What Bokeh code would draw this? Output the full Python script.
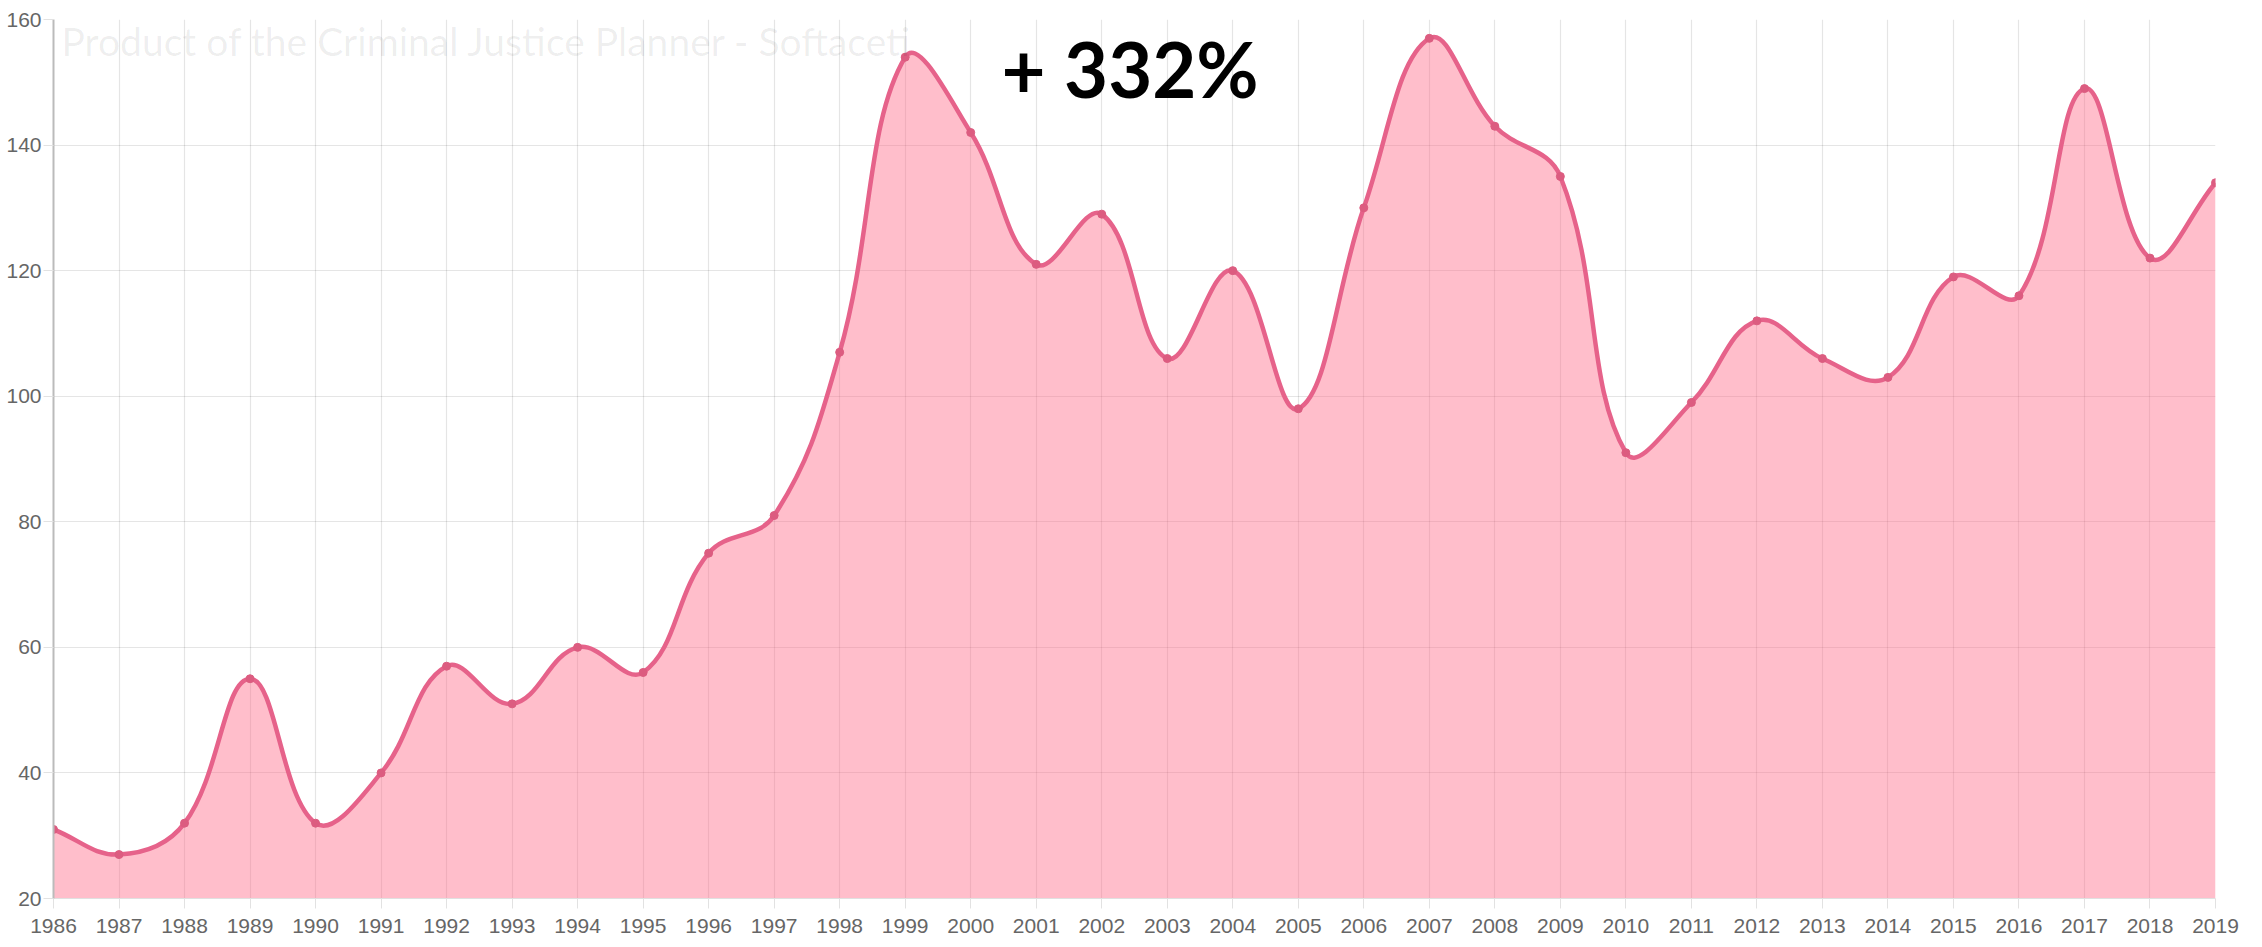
import numpy as np
from bokeh.plotting import figure
from bokeh.models import Range1d, FixedTicker, Label
from bokeh.embed import file_html
from bokeh.resources import INLINE

# ---- data ----
years = list(range(1986, 2020))
values = [31, 27, 32, 55, 32, 40, 57, 51, 60, 56, 75, 81, 107, 154, 142, 121, 129,
          106, 120, 98, 130, 157, 143, 135, 91, 99, 112, 106, 103, 119, 116, 149, 122, 134]
y_ticks = [20, 40, 60, 80, 100, 120, 140, 160]
watermark = "Product of the Criminal Justice Planner - Softaceti"

W, H = 2262, 947
ML, MR, MT, MB = 53, 47, 19, 49
x0, x1 = years[0], years[-1]
y0, y1 = 20, 160

p = figure(width=W, height=H, output_backend="svg", toolbar_location=None,
           x_range=Range1d(x0, x1), y_range=Range1d(y0, y1),
           min_border_left=ML, min_border_right=MR, min_border_top=MT, min_border_bottom=MB)
p.outline_line_color = None
p.background_fill_color = "white"

# grid
p.xgrid.ticker = FixedTicker(ticks=years)
p.ygrid.ticker = FixedTicker(ticks=y_ticks)
for g in (p.xgrid, p.ygrid):
    g.grid_line_color = "black"
    g.grid_line_alpha = 0.1
    g.grid_line_width = 1.2

narrow = "'Liberation Sans Narrow', 'Arial Narrow', 'Liberation Sans', sans-serif"
p.xaxis.ticker = FixedTicker(ticks=years)
p.yaxis.ticker = FixedTicker(ticks=y_ticks)
for ax in (p.xaxis, p.yaxis):
    ax.major_label_text_font = narrow
    ax.major_label_text_font_size = "21px"
    ax.major_label_text_color = "#666666"
    ax.major_tick_line_color = "#e2e2e2"
    ax.major_tick_out = 10
    ax.major_tick_in = 0
    ax.minor_tick_line_color = None
p.xaxis.axis_line_color = "#e0e0e0"
p.yaxis.axis_line_color = "#bbbbbb"
p.yaxis.axis_line_width = 2
p.xaxis.major_label_standoff = 10
p.yaxis.major_label_standoff = 2

# ---- Chart.js style spline (tension 0.4) computed in pixel space ----
fw = W - ML - MR
fh = H - MT - MB
sx = fw / (x1 - x0)
sy = fh / (y1 - y0)
X = np.array(years, float) * sx
Y = np.array(values, float) * sy
n = len(X)
t = 0.4
cpx_prev, cpy_prev, cpx_next, cpy_next = (np.zeros(n) for _ in range(4))
for i in range(n):
    pi = max(i - 1, 0)
    ni = min(i + 1, n - 1)
    d01 = np.hypot(X[i] - X[pi], Y[i] - Y[pi])
    d12 = np.hypot(X[ni] - X[i], Y[ni] - Y[i])
    tot = d01 + d12
    s01 = d01 / tot if tot else 0
    s12 = d12 / tot if tot else 0
    fa, fb = t * s01, t * s12
    cpx_prev[i] = X[i] - fa * (X[ni] - X[pi])
    cpy_prev[i] = Y[i] - fa * (Y[ni] - Y[pi])
    cpx_next[i] = X[i] + fb * (X[ni] - X[pi])
    cpy_next[i] = Y[i] + fb * (Y[ni] - Y[pi])

bx0, by0 = X[:-1] / sx, Y[:-1] / sy
bx1, by1 = X[1:] / sx, Y[1:] / sy
c0x, c0y = cpx_next[:-1] / sx, cpy_next[:-1] / sy
c1x, c1y = cpx_prev[1:] / sx, cpy_prev[1:] / sy

# fill under the curve (sampled Bezier geometry of the same segments)
tt = np.linspace(0, 1, 30)
fx, fy = [], []
for k in range(n - 1):
    a = (1 - tt) ** 3
    b = 3 * (1 - tt) ** 2 * tt
    c = 3 * (1 - tt) * tt ** 2
    d = tt ** 3
    fx.extend(a * bx0[k] + b * c0x[k] + c * c1x[k] + d * bx1[k])
    fy.extend(a * by0[k] + b * c0y[k] + c * c1y[k] + d * by1[k])
p.varea(x=fx, y1=[y0] * len(fx), y2=fy, fill_color="#ff6384", fill_alpha=0.42)

p.bezier(x0=bx0, y0=by0, x1=bx1, y1=by1, cx0=c0x, cy0=c0y, cx1=c1x, cy1=c1y,
         line_color="#e6628a", line_width=4.5)
p.scatter(x=years, y=values, size=8, fill_color="#dc5c80", line_color="#dc5c80")

# ---- texts ----
p.add_layout(Label(x=x0, y=y1, x_offset=8, y_offset=-21, text=watermark,
                   text_font="Lato", text_font_size="39px", text_color="black",
                   text_alpha=0.07, text_baseline="alphabetic"))
pct = round((values[-1] / values[0] - 1) * 100)
p.add_layout(Label(x=x0, y=y1, x_offset=948, y_offset=-49, text=f"+ {pct}%",
                   text_font="Lato", text_font_style="bold", text_font_size="76px",
                   text_color="black", text_baseline="alphabetic"))

open("out.html", "w").write(file_html(p, INLINE))
